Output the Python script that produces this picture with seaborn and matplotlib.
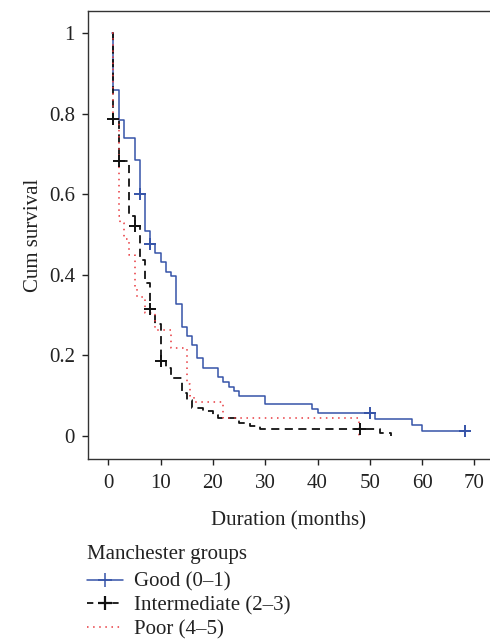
import numpy as np
import pandas as pd
import matplotlib
matplotlib.use("Agg")
import matplotlib.pyplot as plt
from matplotlib.lines import Line2D
import seaborn as sns

# ---- data ----
good_t = [0.75, 0.8, 2, 3, 5, 6, 7, 8, 9, 10, 11, 12, 13, 14, 15, 16, 17, 18,
          21, 22, 23, 24, 25, 30, 39, 40, 51, 58, 60, 68.2]
good_s = [1.0, 0.859, 0.785, 0.74, 0.685, 0.60, 0.51, 0.476, 0.454, 0.431,
          0.408, 0.396, 0.328, 0.271, 0.248, 0.226, 0.193, 0.170, 0.147,
          0.135, 0.122, 0.112, 0.100, 0.079, 0.067, 0.056, 0.042, 0.027,
          0.012, 0.012]
good_cens_t = [6, 8, 50, 68.2]
good_cens_s = [0.60, 0.476, 0.056, 0.012]

inter_t = [0.75, 0.95, 2, 4, 5, 6, 7, 8, 9, 10, 11, 12, 14, 15, 16, 18, 20,
           21, 25, 27, 29, 52, 54]
inter_s = [1.0, 0.787, 0.682, 0.545, 0.521, 0.437, 0.381, 0.315, 0.278,
           0.186, 0.168, 0.143, 0.108, 0.089, 0.069, 0.061, 0.052, 0.044,
           0.033, 0.025, 0.017, 0.007, 0.0]
inter_cens_t = [0.95, 2, 5, 8, 10, 48.2]
inter_cens_s = [0.787, 0.682, 0.521, 0.315, 0.186, 0.017]

poor_t = [0.75, 0.8, 2, 2.3, 3, 4, 5, 5.5, 7, 9, 12, 15, 15.7, 16.3, 22, 48]
poor_s = [1.0, 0.787, 0.545, 0.530, 0.49, 0.45, 0.37, 0.346, 0.305, 0.263,
          0.218, 0.13, 0.10, 0.085, 0.044, 0.0]

groups = ["Good (0\u20131)", "Intermediate (2\u20133)", "Poor (4\u20135)"]
x_ticks = [0, 10, 20, 30, 40, 50, 60, 70]
y_ticks = [0, 0.2, 0.4, 0.6, 0.8, 1]
y_tick_labels = ["0", "0.2", "0.4", "0.6", "0.8", "1"]

# ---- style ----
sns.set_style("ticks")
plt.rcParams["font.family"] = ["Liberation Serif", "DejaVu Serif"]
FS = 15
plt.rcParams["font.size"] = FS

colors = {groups[0]: "#3553a8", groups[1]: "#111111", groups[2]: "#e8383d"}

curves = pd.concat([
    pd.DataFrame({"t": good_t, "s": good_s, "g": groups[0]}),
    pd.DataFrame({"t": inter_t, "s": inter_s, "g": groups[1]}),
    pd.DataFrame({"t": poor_t, "s": poor_s, "g": groups[2]}),
], ignore_index=True)
cens = pd.concat([
    pd.DataFrame({"t": good_cens_t, "s": good_cens_s, "g": groups[0]}),
    pd.DataFrame({"t": inter_cens_t, "s": inter_cens_s, "g": groups[1]}),
], ignore_index=True)

fig = plt.figure(figsize=(4.9, 6.4), dpi=100)
ax = fig.add_axes([87.5 / 490, 1 - 459 / 640, 1 - 87.5 / 490, (459 - 11) / 640])

styles = {groups[0]: dict(linestyle="-", linewidth=1.1),
          groups[1]: dict(linestyle=(0, (4.5, 3)), linewidth=1.3),
          groups[2]: dict(linestyle=(0, (1, 3)), linewidth=1.1)}

for g in groups:
    d = curves[curves["g"] == g]
    sns.lineplot(data=d, x="t", y="s", ax=ax, color=colors[g],
                 estimator=None, sort=False, drawstyle="steps-post",
                 legend=False, **styles[g])
for g in groups[:2]:
    d = cens[cens["g"] == g]
    sns.scatterplot(data=d, x="t", y="s", ax=ax, color=colors[g], marker="+",
                    s=80, linewidth=1.4, legend=False, zorder=5)

ax.set_xlim(-4, 73)
ax.set_ylim(-0.057, 1.055)
ax.set_xticks(x_ticks)
ax.set_yticks(y_ticks)
ax.set_yticklabels(y_tick_labels)
ax.tick_params(direction="out", length=4, width=1, colors="#222222",
               labelsize=FS, labelcolor="#222222", pad=5)
ax.tick_params(axis="x", pad=7)
ax.spines["right"].set_visible(False)
for sp in ["left", "bottom", "top"]:
    ax.spines[sp].set_color("#333333")
    ax.spines[sp].set_linewidth(1.0)
ax.set_xlabel("Duration (months)", fontsize=FS, color="#222222", labelpad=13)
ax.set_ylabel("Cum survival", fontsize=FS, color="#222222", labelpad=4)

handles = [
    Line2D([], [], color=colors[groups[0]], marker="+", markersize=10,
           markeredgewidth=1.1, **styles[groups[0]]),
    Line2D([], [], color=colors[groups[1]], marker="+", markersize=10,
           markeredgewidth=1.6, linestyle=(0, (3.5, 3.5)), linewidth=1.3),
    Line2D([], [], color=colors[groups[2]], **styles[groups[2]]),
]
leg = fig.legend(handles, groups, title="Manchester groups",
                 loc="upper left", bbox_to_anchor=(87 / 490, 1 - 545 / 640),
                 frameon=False, fontsize=FS, title_fontsize=FS,
                 handlelength=1.75, handletextpad=0.5, labelspacing=0.2,
                 borderpad=0, borderaxespad=0)
leg._legend_box.align = "left"
leg._legend_box.sep = 6
for t in leg.get_texts():
    t.set_color("#222222")
leg.get_title().set_color("#222222")

fig.savefig("out.png", dpi=100)
